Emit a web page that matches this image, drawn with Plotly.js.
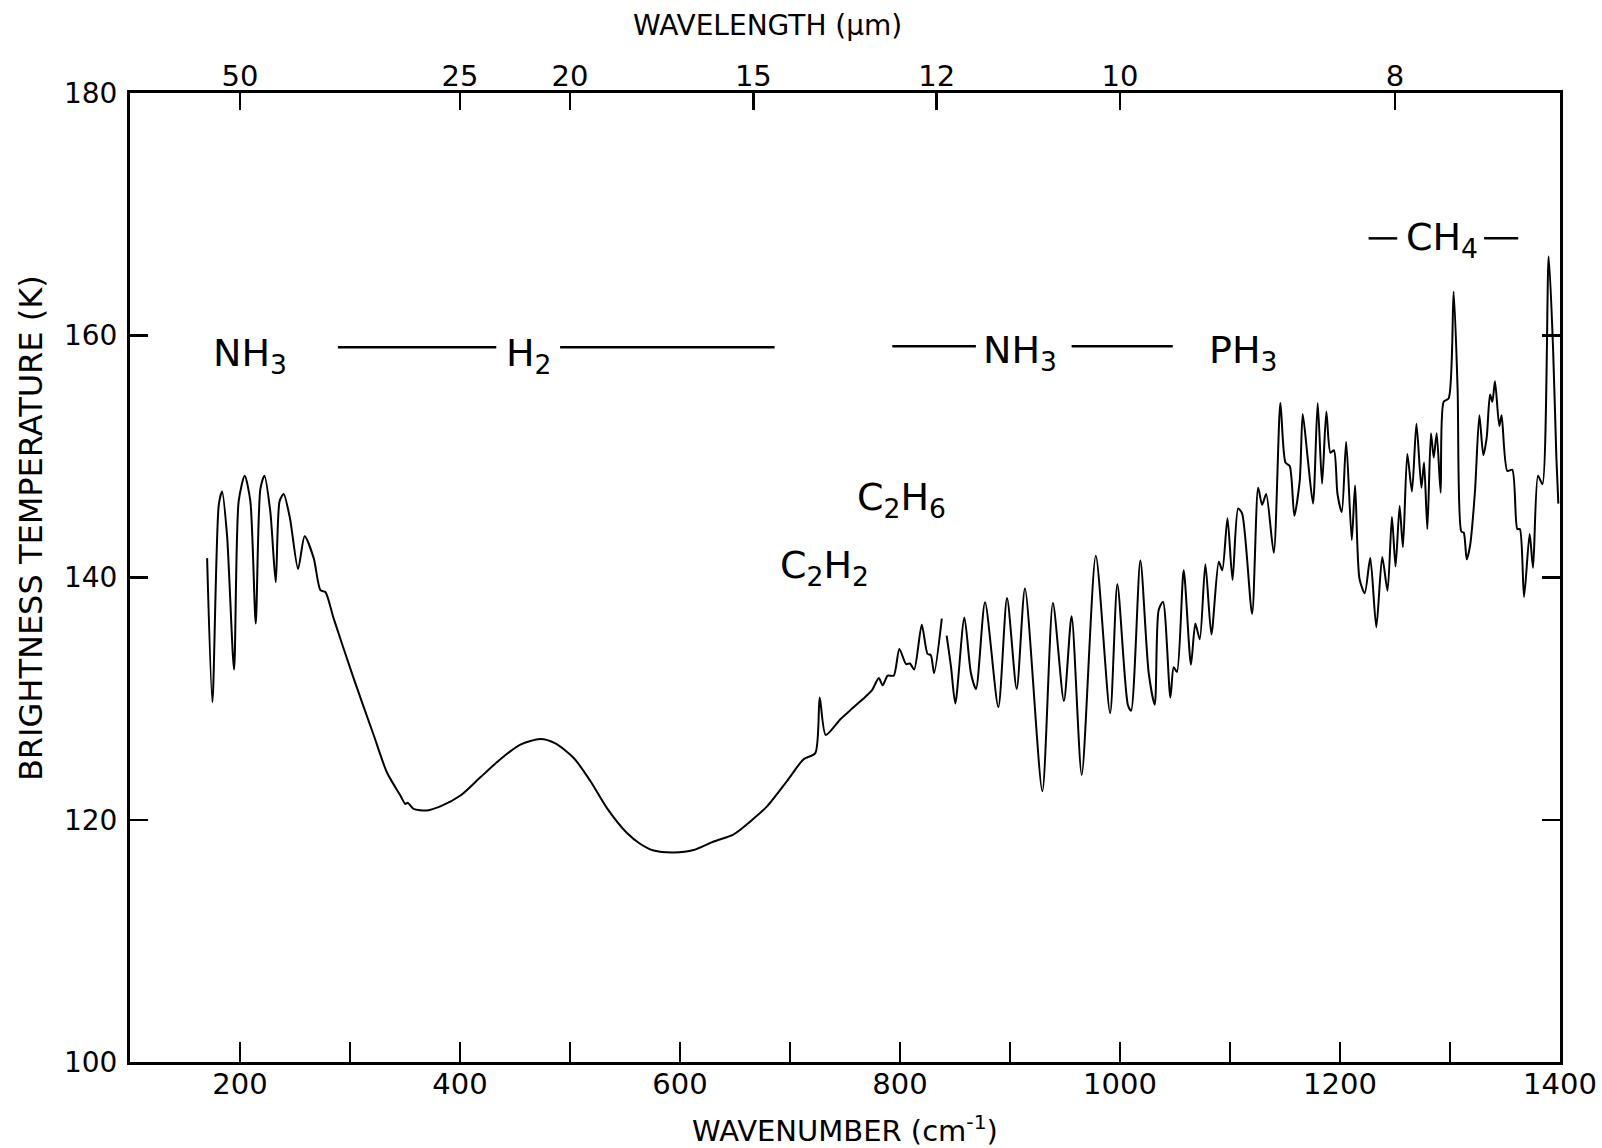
<!DOCTYPE html>
<html>
<head>
<meta charset="utf-8">
<script src="https://cdn.plot.ly/plotly-3.0.1.min.js"></script>
<style>
  html, body { margin: 0; padding: 0; background: #ffffff; }
  #chart { width: 1602px; height: 1148px; }
</style>
</head>
<body>
<div id="chart"></div>
<script>
// ---- Data ----
const wavenumber = [
  170.1, 174.9, 180.7, 183.7, 188.2, 194.6, 198.8, 204.3, 209.4, 214.3,
  218.5, 222.2, 227.6, 232.5, 236.0, 239.7, 245.4, 252.8, 258.8, 267.0,
  273.1, 277.6, 285.2, 303.4, 321.5, 333.6, 345.8, 350.3, 352.4, 357.8,
  370.0, 382.1, 400.4, 418.5, 436.7, 454.9, 473.1, 486.7, 503.4, 518.5,
  533.6, 551.8, 564.0, 576.1, 594.3, 612.5, 630.6, 648.8, 667.0, 679.1,
  697.3, 712.4, 723.0, 727.0, 732.5, 745.8, 754.9, 765.5, 774.6, 780.7,
  784.3, 788.8, 794.3, 799.4, 805.5, 809.0, 812.9, 819.8, 825.0, 828.0,
  831.0, 838.0, 840.0,
  842.4, 846.4, 850.3, 858.5, 864.5, 869.1, 877.3, 889.4, 897.3, 906.1,
  913.6, 929.4, 939.0, 949.0, 956.0, 965.2, 978.0, 991.0, 997.6, 1007.1,
  1010.1, 1018.5, 1026.1, 1031.6, 1035.1, 1039.1, 1045.8, 1048.8, 1051.8, 1057.9,
  1064.5, 1068.5, 1072.5, 1077.6, 1083.1, 1089.8, 1093.0, 1097.7, 1102.3, 1107.4,
  1111.0, 1120.1, 1125.6, 1129.2, 1132.9, 1139.8, 1145.8, 1150.4, 1154.3, 1158.5,
  1163.4, 1166.1, 1170.7, 1175.5, 1179.7, 1183.7, 1187.6, 1191.3, 1194.5, 1197.7,
  1201.6, 1205.6, 1210.7, 1213.7, 1217.7, 1222.5, 1227.5, 1233.0, 1238.4, 1243.2,
  1247.2, 1250.5, 1254.2, 1257.2, 1261.2, 1265.4, 1269.5, 1274.0, 1276.4, 1279.4,
  1282.7, 1285.2, 1287.9, 1291.5, 1294.2, 1298.8, 1303.3, 1306.9, 1310.3, 1312.5,
  1315.2, 1318.2, 1322.7, 1326.7, 1330.3, 1333.3, 1336.4, 1338.5, 1340.9, 1344.8,
  1346.9, 1352.1, 1356.6, 1361.2, 1363.5, 1367.3, 1372.4, 1375.5, 1380.0, 1384.0,
  1389.7, 1393.7, 1396.7, 1398.5
];
const brightnessT = [
  141.6, 129.7, 146.0, 147.1, 143.5, 132.4, 146.3, 148.4, 146.3, 136.2,
  147.3, 148.4, 145.4, 139.6, 146.3, 146.9, 144.9, 140.7, 143.4, 141.6,
  138.95, 138.8, 136.6, 131.65, 127.0, 123.9, 122.0, 121.3, 121.4, 120.9,
  120.77, 121.1, 122.0, 123.5, 125.0, 126.2, 126.66, 126.3, 125.1, 123.2,
  120.96, 118.9, 118.0, 117.46, 117.3, 117.5, 118.2, 118.8, 120.1, 121.1,
  123.2, 125.0, 125.5, 130.1, 127.0, 128.3, 129.05, 129.9, 130.7, 131.7,
  131.1, 131.9, 131.9, 134.1, 132.85, 132.9, 132.4, 136.1, 133.7, 133.6,
  132.1, 136.6, null,
  135.2, 132.6, 129.6, 136.7, 132.1, 130.8, 137.95, 129.3, 138.3, 130.8,
  139.1, 122.35, 137.9, 129.8, 136.8, 123.7, 141.8, 128.8, 139.45, 129.5,
  129.0, 141.4, 132.1, 129.5, 137.3, 138.0, 130.1, 132.6, 132.2, 140.6,
  132.8, 136.2, 134.9, 141.1, 135.3, 141.3, 140.6, 144.9, 139.8, 145.7,
  145.3, 137.0, 147.4, 146.0, 146.9, 142.05, 154.4, 149.5, 149.2, 145.1,
  148.0, 153.5, 149.8, 146.1, 154.4, 147.75, 153.7, 150.3, 150.5, 146.9,
  145.4, 151.2, 143.1, 147.6, 139.9, 138.7, 141.6, 135.9, 141.7, 138.9,
  145.0, 140.9, 145.9, 142.5, 150.2, 147.1, 152.7, 147.4, 149.5, 144.0,
  151.9, 149.9, 151.9, 147.0, 154.5, 154.8, 163.6, 155.6, 143.8, 143.7,
  141.5, 142.6, 147.1, 153.4, 150.1, 151.5, 155.1, 154.5, 156.2, 152.5,
  153.4, 148.8, 148.9, 144.0, 144.0, 138.4, 143.6, 140.8, 148.4, 147.7,
  166.5, 158.9, 149.9, 146.1
];

// Axis tick labels
const wavenumberTicks = [200, 300, 400, 500, 600, 700, 800, 900, 1000, 1100, 1200, 1300, 1400];
const wavenumberTickText = ['200', '', '400', '', '600', '', '800', '', '1000', '', '1200', '', '1400'];
const wavelengthLabels = [50, 25, 20, 15, 12, 10, 8];          // micrometres
const temperatureTicks = [100, 120, 140, 160, 180];

// Band identifications
const bandNames = ['NH<sub>3</sub>', 'H<sub>2</sub>', 'NH<sub>3</sub>', 'PH<sub>3</sub>',
                   'C<sub>2</sub>H<sub>6</sub>', 'C<sub>2</sub>H<sub>2</sub>', 'CH<sub>4</sub>'];

// ---- Layout helpers (positions/styles) ----
const FONT = 'DejaVu Sans, Verdana, sans-serif';
const bandPos = [
  [209, 158.3], [463, 158.3], [909, 158.6], [1112, 158.6],
  [801, 146.4], [731, 140.8], [1293, 167.9]
];
const bandLines = [
  [289, 433, 159.0], [491, 686, 159.0], [793, 869, 159.1], [956, 1048, 159.1],
  [1226, 1252, 168.0], [1331, 1362, 168.0]
];

const annotations = bandNames.map((t, i) => ({
  text: t, x: bandPos[i][0], y: bandPos[i][1], xref: 'x', yref: 'y',
  showarrow: false, xanchor: 'center', yanchor: 'middle',
  font: { family: FONT, size: 38, color: '#000' }
}));

// Axis titles placed as paper-anchored text to match the reference's off-centre positions
annotations.push({
  text: 'BRIGHTNESS TEMPERATURE (K)', textangle: -90,
  xref: 'paper', yref: 'paper', x: 0, y: 0.551, xanchor: 'center', yanchor: 'middle',
  xshift: -99, showarrow: false,
  font: { family: FONT, size: 32, color: '#000' }
});
annotations.push({
  text: 'WAVELENGTH (μm)',
  xref: 'paper', yref: 'paper', x: 0.446, y: 1, xanchor: 'center', yanchor: 'middle',
  yshift: 68, showarrow: false,
  font: { family: FONT, size: 28, color: '#000' }
});

const shapes = bandLines.map(l => ({
  type: 'line', xref: 'x', yref: 'y', x0: l[0], x1: l[1], y0: l[2], y1: l[2],
  line: { color: '#000', width: 2.5 }
}));

const traces = [
  {
    x: wavenumber, y: brightnessT, type: 'scatter', mode: 'lines',
    line: { color: '#000', width: 2, shape: 'spline', smoothing: 0.7 },
    connectgaps: false, showlegend: false, hoverinfo: 'x+y'
  },
  {
    x: [], y: [], xaxis: 'x2', yaxis: 'y', type: 'scatter', mode: 'lines',
    showlegend: false, hoverinfo: 'skip'
  }
];

const layout = {
  width: 1602, height: 1148,
  margin: { l: 130, r: 42, t: 93, b: 86 },
  paper_bgcolor: '#fff', plot_bgcolor: '#fff',
  font: { family: FONT, color: '#000' },
  showlegend: false,
  xaxis: {
    range: [100, 1400], showgrid: false, zeroline: false,
    showline: true, linecolor: '#000', linewidth: 3, mirror: true,
    ticks: 'inside', ticklen: 20, tickwidth: 2.5, tickcolor: '#000',
    tickmode: 'array', tickvals: wavenumberTicks, ticktext: wavenumberTickText,
    tickfont: { family: FONT, size: 29, color: '#000' },
    ticklabelstandoff: -6,
    title: { text: 'WAVENUMBER (cm<sup>-1</sup>)', font: { family: FONT, size: 29, color: '#000' }, standoff: 28 },
    automargin: false
  },
  xaxis2: {
    overlaying: 'x', side: 'top', anchor: 'y',
    range: [100, 1400], showgrid: false, zeroline: false, showline: false,
    ticks: 'inside', ticklen: 17, tickwidth: 2.5, tickcolor: '#000',
    tickmode: 'array',
    tickvals: wavelengthLabels.map(l => 10000 / l),
    ticktext: wavelengthLabels.map(String),
    tickfont: { family: FONT, size: 29, color: '#000' },
    ticklabelstandoff: 0,
    automargin: false
  },
  yaxis: {
    range: [100, 180], showgrid: false, zeroline: false,
    showline: true, linecolor: '#000', linewidth: 3, mirror: 'ticks',
    ticks: 'inside', ticklen: 18, tickwidth: 2.5, tickcolor: '#000',
    tickmode: 'array', tickvals: temperatureTicks,
    tickfont: { family: FONT, size: 28, color: '#000' },
    ticklabelstandoff: 4,
    automargin: false
  },
  annotations: annotations,
  shapes: shapes
};

Plotly.newPlot('chart', traces, layout, { displayModeBar: false, staticPlot: true });
</script>
</body>
</html>
